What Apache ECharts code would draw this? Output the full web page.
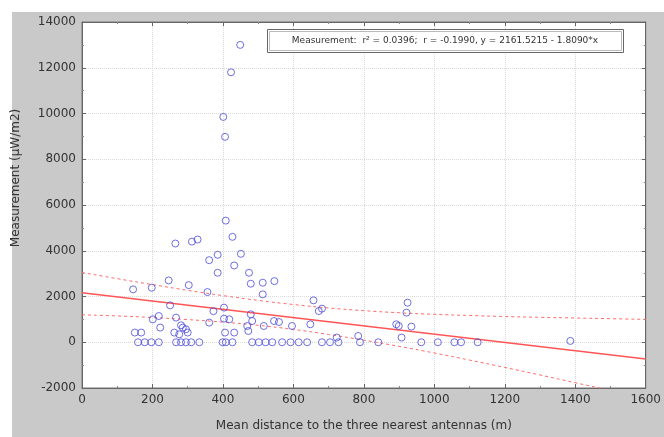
<!DOCTYPE html>
<html><head><meta charset="utf-8">
<script src="https://cdn.jsdelivr.net/npm/echarts@6/dist/echarts.min.js"></script>
<style>html,body{margin:0;padding:0;background:#fff}#c{width:664px;height:437px}</style>
</head><body><div id="c"></div>
<script>
// distance (m)
const distX = [449,423,401,406,408,427,265,312,328,361,385,451,432,385,474,246,303,198,145,356,479,513,546,513,250,403,218,201,222,267,281,286,295,300,262,276,150,168,361,403,418,406,432,479,483,469,472,516,545,559,596,648,657,681,672,924,921,892,899,935,907,723,784,1386,373,
159,178,197,218,267,281,295,310,333,399,408,427,483,502,521,540,568,592,615,639,681,704,728,789,841,963,1010,1057,1076,1123];
// measurement (µW/m2)
const measY = [13000,11800,9850,8980,5318,4608,4316,4400,4490,3588,3823,3866,3357,3038,3038,2703,2498,2385,2311,2193,2559,2603,2672,2093,1613,1513,1147,1003,641,1077,741,641,567,423,423,349,423,423,859,1033,1003,423,423,1221,929,711,493,711,929,885,711,785,1831,1469,1364,1730,1295,785,711,684,205,205,275,57,1360,
0,0,0,0,0,0,0,0,0,0,0,0,0,0,0,0,0,0,0,0,0,0,0,0,0,0,0,0,0,0];
// regression line endpoints
const fitX = [0, 1600];
const fitY = [2161.5, -732.9];
// 95% confidence band
const bandX = [0,100,200,300,400,500,600,700,800,900,1000,1100,1200,1300,1400,1500,1600];
const bandUpper = [3050,2780,2520,2270,2040,1830,1650,1500,1380,1290,1220,1170,1125,1090,1060,1030,1000];
const bandLower = [1200,1150,1080,990,880,740,560,340,90,-180,-470,-780,-1100,-1430,-1770,-2110,-2460];
const xTicks = {min:0, max:1600, interval:200};
const yTicks = {min:-2000, max:14000, interval:2000};
const legendText = 'Measurement:  r² = 0.0396;  r = -0.1990, y = 2161.5215 - 1.8090*x';

const chart = echarts.init(document.getElementById('c'), null, {renderer:'canvas'});
const F = 'DejaVu Sans';
const plain = v => String(v);
const axisCommon = {
  axisLine:{show:true, onZero:false, lineStyle:{color:'#666', width:1}},
  axisTick:{show:true, inside:true, length:4, lineStyle:{color:'#666'}},
  minorTick:{show:true, splitNumber:2, length:2, lineStyle:{color:'#888'}},
};
chart.setOption({
  animation:false,
  backgroundColor:'#c9c9c9',
  grid:{left:82, right:16, top:22, bottom:48, show:true, backgroundColor:'#fff', borderColor:'#777', borderWidth:1},
  xAxis:[
    Object.assign({type:'value', min:xTicks.min, max:xTicks.max, interval:xTicks.interval,
      splitLine:{show:true, lineStyle:{color:'#dadada', type:'dotted'}},
      axisLabel:{fontFamily:F, fontSize:12, color:'#333', margin:6, formatter:plain},
      name:'Mean distance to the three nearest antennas (m)', nameLocation:'middle', nameGap:32,
      nameTextStyle:{fontFamily:F, fontSize:12, color:'#333'}}, axisCommon),
    Object.assign({type:'value', position:'top', min:xTicks.min, max:xTicks.max, interval:xTicks.interval,
      splitLine:{show:false}, axisLabel:{show:false}}, axisCommon)
  ],
  yAxis:[
    Object.assign({type:'value', min:yTicks.min, max:yTicks.max, interval:yTicks.interval,
      splitLine:{show:true, lineStyle:{color:'#dadada', type:'dotted'}},
      axisLabel:{fontFamily:F, fontSize:12, color:'#333', margin:6, formatter:plain}}, axisCommon),
    Object.assign({type:'value', position:'right', min:yTicks.min, max:yTicks.max, interval:yTicks.interval,
      splitLine:{show:false}, axisLabel:{show:false}}, axisCommon)
  ],
  graphic:[
    {type:'rect', shape:{x:0,y:0,width:664,height:12}, style:{fill:'#fff'}, silent:true},
    {type:'rect', shape:{x:0,y:0,width:12,height:437}, style:{fill:'#fff'}, silent:true},
    {type:'text', x:16, y:178, rotation:Math.PI/2,
      style:{text:'Measurement (µW/m2)', fontFamily:F, fontSize:12, fill:'#333', textAlign:'center', textVerticalAlign:'middle'}},
    {type:'rect', z:100, shape:{x:267.5,y:29.5,width:356,height:23}, style:{fill:'#fff', stroke:'#666', lineWidth:1}},
    {type:'rect', z:100, shape:{x:269.5,y:31.5,width:352,height:19}, style:{fill:'none', stroke:'#bbb', lineWidth:1}},
    {type:'text', z:101, x:445, y:41,
      style:{text:legendText, fontFamily:F, fontSize:9, fill:'#333', textAlign:'center', textVerticalAlign:'middle'}}
  ],
  series:[
    {type:'line', data:bandX.map((x,i)=>[x,bandUpper[i]]), smooth:true, symbol:'none',
      lineStyle:{color:'#ff6b6b', width:1, type:[3,3]}, z:3},
    {type:'line', data:bandX.map((x,i)=>[x,bandLower[i]]), smooth:true, symbol:'none',
      lineStyle:{color:'#ff6b6b', width:1, type:[3,3]}, z:3},
    {type:'line', data:fitX.map((x,i)=>[x,fitY[i]]), symbol:'none',
      lineStyle:{color:'#ff5555', width:1.5}, z:3},
    {type:'scatter', data:distX.map((x,i)=>[x,measY[i]]), symbol:'circle', symbolSize:7,
      itemStyle:{color:'rgba(0,0,0,0)', borderColor:'#4b4bd8', borderWidth:1}, z:4}
  ]
});
</script></body></html>
